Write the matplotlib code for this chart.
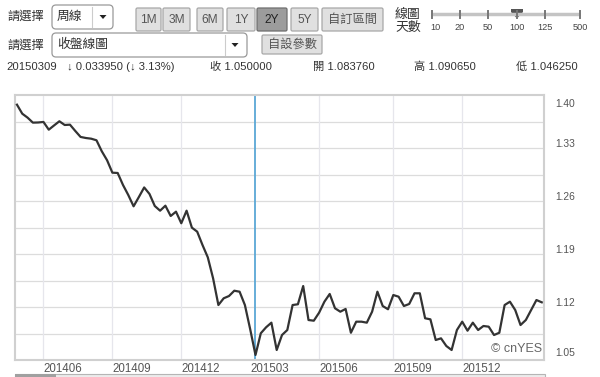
import matplotlib
matplotlib.use('Agg')
import matplotlib.pyplot as plt
import pandas as pd
from matplotlib.patches import Rectangle, FancyBboxPatch, Polygon

plt.rcParams['font.family'] = ['Liberation Sans', 'Noto Sans CJK TC', 'DejaVu Sans']

# ---------------- data ----------------
start_date = '2014-04-28'
closes = [
    1.3806, 1.3687, 1.3635, 1.3569, 1.3571, 1.3578, 1.3476, 1.3532, 1.3587, 1.3538,
    1.3542, 1.3459, 1.3380, 1.3366, 1.3357, 1.3336, 1.3191, 1.3072, 1.2908, 1.2904,
    1.2746, 1.2613, 1.2464, 1.2587, 1.2713, 1.2627, 1.2468, 1.2406, 1.2472, 1.2336,
    1.2393, 1.2240, 1.2406, 1.2182, 1.2129, 1.1953, 1.1790, 1.1513, 1.1160, 1.1249,
    1.1279, 1.1349, 1.1336, 1.1160, 1.0840, 1.0500, 1.0787, 1.0866, 1.0927, 1.0566,
    1.0764, 1.0830, 1.1160, 1.1170, 1.1411, 1.0962, 1.0953, 1.1059, 1.1204, 1.1306,
    1.1117, 1.1072, 1.1108, 1.0794, 1.0940, 1.0940, 1.0927, 1.1072, 1.1336, 1.1147,
    1.1104, 1.1292, 1.1270, 1.1147, 1.1174, 1.1315, 1.1315, 1.0985, 1.0971, 1.0698,
    1.0720, 1.0619, 1.0566, 1.0830, 1.0940, 1.0821, 1.0927, 1.0830, 1.0883, 1.0874,
    1.0764, 1.0794, 1.1160, 1.1204, 1.1094, 1.0896, 1.0962, 1.1094, 1.1226, 1.1196,
]
highlight_date = '2015-03-09'
x_tick_dates = ['2014-06-02', '2014-09-01', '2014-12-01', '2015-03-02',
                '2015-06-01', '2015-09-07', '2015-12-07']
x_tick_labels = ['201406', '201409', '201412', '201503', '201506', '201509', '201512']
y_tick_values = [1.054, 1.12, 1.19, 1.26, 1.33, 1.383]
y_tick_labels = ['1.05', '1.12', '1.19', '1.26', '1.33', '1.40']
y_grid_values = [1.078, 1.113, 1.148, 1.183, 1.218, 1.253, 1.288, 1.323, 1.358]

info_items = [('20150309', 6), ('↓ 0.033950 (↓ 3.13%)', 67), ('收 1.050000', 210),
              ('開 1.083760', 313), ('高 1.090650', 414), ('低 1.046250', 516)]
range_buttons = [('1M', 136, 161), ('3M', 163, 190), ('6M', 197, 223), ('1Y', 227, 255),
                 ('2Y', 257, 287), ('5Y', 291, 318), ('自訂區間', 322, 383)]
slider_labels = ['10', '20', '50', '100', '125', '500']
slider_x = [432, 460, 488, 517, 545, 580]

dates = pd.date_range(start_date, periods=len(closes), freq='7D')

# ---------------- figure ----------------
W, H = 600, 377
fig = plt.figure(figsize=(W / 100, H / 100), dpi=100)
fig.patch.set_facecolor('white')

ax_l, ax_r, ax_t, ax_b = 15, 544, 95.3, 360.3
ax = fig.add_axes([ax_l / W, 1 - ax_b / H, (ax_r - ax_l) / W, (ax_b - ax_t) / H])

for g in y_grid_values:
    ax.axhline(g, color='#dcdcdc', lw=0.9, zorder=1)
for d, lab in zip(x_tick_dates, x_tick_labels):
    if lab != '201503':
        ax.axvline(pd.Timestamp(d), color='#e6e6ec', lw=0.9, zorder=1)

ax.axvline(pd.Timestamp(highlight_date), color='#5aa7d6', lw=1.3, zorder=2)
ax.plot(dates, closes, color='#333333', lw=1.6, zorder=3, solid_joinstyle='round')

ax.set_ylim(1.043, 1.393)
ax.set_xlim(dates[0] - pd.Timedelta(days=2.6), dates[-1] + pd.Timedelta(days=3))

ax.set_xticks([pd.Timestamp(d) for d in x_tick_dates])
ax.set_xticklabels(x_tick_labels, ha='left', fontsize=8.3, color='#555555')
ax.yaxis.tick_right()
ax.set_yticks(y_tick_values)
ax.set_yticklabels(y_tick_labels, fontsize=7.4, color='#555555')
ax.tick_params(axis='x', length=0, pad=2)
ax.tick_params(axis='y', length=0, pad=8)
for s in ax.spines.values():
    s.set_color('#d0d0d0')
    s.set_linewidth(1.5)

# ---------------- UI overlay in pixel coords ----------------
ov = fig.add_axes([0, 0, 1, 1], zorder=5)
ov.set_xlim(0, W)
ov.set_ylim(H, 0)
ov.axis('off')
ov.patch.set_alpha(0)

txt = '#333333'

def box(x0, x1, y0, y1, fc, ec, r=2.5, lw=0.9):
    ov.add_patch(FancyBboxPatch((x0, y0), x1 - x0, y1 - y0,
                                boxstyle=f'round,pad=0,rounding_size={r}',
                                fc=fc, ec=ec, lw=lw))

def down_arrow(cx, cy):
    ov.add_patch(Polygon([(cx - 3.5, cy - 2), (cx + 3.5, cy - 2), (cx, cy + 2)],
                         closed=True, fc='#222222', ec='none'))

# row 1
ov.text(7, 17, '請選擇', fontsize=8.8, color=txt, ha='left', va='center')
box(52, 113, 5, 29, 'white', '#9a9a9a', r=4)
ov.plot([92, 92], [7, 27], color='#cccccc', lw=0.8)
ov.text(57, 16.5, '周線', fontsize=9.2, color=txt, ha='left', va='center')
down_arrow(103, 17)

for lab, x0, x1 in range_buttons:
    pressed = lab == '2Y'
    box(x0, x1, 8, 31, '#9c9c9c' if pressed else '#e0e0e0',
        '#6f6f6f' if pressed else '#a8a8a8', r=1.5)
    ov.text((x0 + x1) / 2, 19.8, lab, fontsize=8.6 if len(lab) == 2 else 8.8,
            color='#222222' if pressed else '#555555', ha='center', va='center')

ov.text(395, 14.5, '線圖', fontsize=9.3, color=txt, ha='left', va='center')
ov.text(395, 28, '天數', fontsize=9.3, color=txt, ha='left', va='center')
ov.plot([slider_x[0], slider_x[-1]], [14, 14], color='#c4c4c4', lw=2.5,
        solid_capstyle='butt')
for sx, sl in zip(slider_x, slider_labels):
    ov.plot([sx, sx], [10.5, 17.5], color='#777777', lw=1.4)
    ov.text(sx + (3 if sl == '10' else 0), 27, sl, fontsize=6.6, color='#444444',
            ha='center', va='center')
ov.add_patch(Polygon([(511, 9), (523, 9), (523, 12), (517, 18.5), (511, 12)],
                     closed=True, fc='#555555', ec='none'))

# row 2
ov.text(7, 46, '請選擇', fontsize=8.8, color=txt, ha='left', va='center')
box(52, 247, 33, 57, 'white', '#9a9a9a', r=4)
ov.plot([225, 225], [35, 55], color='#cccccc', lw=0.8)
ov.text(57, 45, '收盤線圖', fontsize=9.2, color=txt, ha='left', va='center')
down_arrow(235, 45)
box(262, 322, 35, 54, '#e0e0e0', '#a8a8a8', r=1.5)
ov.text(292, 44.5, '自設參數', fontsize=8.8, color='#555555', ha='center', va='center')

# row 3
for s, x in info_items:
    ov.text(x, 67, s, fontsize=8.1, color=txt, ha='left', va='center')

# watermark
ov.text(542, 349.5, '© cnYES', fontsize=9, color='#666666', ha='right', va='center')

# scrollbar
ov.add_patch(Rectangle((15, 373.5), 530, 4, fc='#ececec', ec='#b5b5b5', lw=0.8))
ov.add_patch(Rectangle((15, 373.5), 41, 4, fc='#a0a0a0', ec='none'))

fig.savefig('out.png', dpi=100)
